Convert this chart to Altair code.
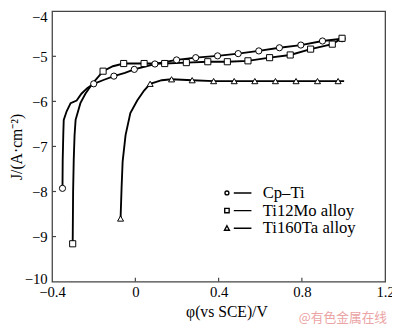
import altair as alt
import pandas as pd

# ---------------- data ----------------
series_names = ["Cp–Ti", "Ti12Mo alloy", "Ti160Ta alloy"]

cp_x = [-0.350, -0.349, -0.346, -0.344, -0.330, -0.311, -0.282, -0.259, -0.230, -0.200,
        -0.150, -0.103, -0.050, -0.005, 0.094, 0.198, 0.290, 0.395, 0.494, 0.593,
        0.692, 0.795, 0.899, 0.993]
cp_y = [-7.93, -7.30, -6.70, -6.41, -6.22, -6.04, -5.98, -5.83, -5.70, -5.61,
        -5.52, -5.44, -5.37, -5.29, -5.17, -5.08, -5.03, -4.99, -4.94, -4.88,
        -4.81, -4.75, -4.66, -4.61]
cp_mark = [1, 0, 0, 0, 0, 0, 0, 0, 0, 1,
           0, 1, 0, 1, 1, 1, 1, 1, 1, 1,
           1, 1, 1, 1]

mo_x = [-0.301, -0.299, -0.296, -0.292, -0.287, -0.264, -0.240, -0.207, -0.155, -0.108,
        -0.056, 0.042, 0.141, 0.245, 0.348, 0.442, 0.541, 0.645, 0.744, 0.842,
        0.946, 0.993]
mo_y = [-9.16, -8.00, -7.30, -6.75, -6.41, -6.04, -5.83, -5.61, -5.33, -5.22,
        -5.16, -5.16, -5.16, -5.14, -5.12, -5.12, -5.10, -5.03, -4.97, -4.84,
        -4.73, -4.60]
mo_mark = [1, 0, 0, 0, 0, 0, 0, 0, 1, 0,
           1, 1, 1, 1, 1, 1, 1, 1, 1, 1,
           1, 1]

ta_x = [-0.071, -0.066, -0.061, -0.047, -0.024, 0.009, 0.042, 0.071, 0.127, 0.174,
        0.273, 0.376, 0.475, 0.574, 0.673, 0.772, 0.875, 0.974, 1.003]
ta_y = [-8.60, -7.90, -7.33, -6.75, -6.26, -5.98, -5.76, -5.61, -5.53, -5.51,
        -5.53, -5.55, -5.55, -5.55, -5.55, -5.55, -5.55, -5.55, -5.55]
ta_mark = [1, 0, 0, 0, 0, 0, 0, 1, 0, 1,
           1, 1, 1, 1, 1, 1, 1, 1, 0]

x_ticks = [-0.4, 0, 0.4, 0.8, 1.2]
y_ticks = [-10, -9, -8, -7, -6, -5, -4]
x_title = "φ(vs SCE)/V"
y_title = "J/(A·cm⁻²)"
watermark = "@有色金属在线"

# ---------------- tables ----------------
rows = []
for name, xs, ys, ms in [(series_names[0], cp_x, cp_y, cp_mark),
                         (series_names[1], mo_x, mo_y, mo_mark),
                         (series_names[2], ta_x, ta_y, ta_mark)]:
    for i, (a, b, m) in enumerate(zip(xs, ys, ms)):
        rows.append({"series": name, "x": a, "y": b, "i": i, "m": m})
df = pd.DataFrame(rows)
markers = df[df["m"] == 1]
xt = pd.DataFrame({"x": x_ticks[1:-1]})
yt = pd.DataFrame({"y": y_ticks[1:-1]})
wm = pd.DataFrame({"t": [watermark]})

FONT = "Liberation Serif"
W, H = 340, 276
FRAME = "#444444"

xsc = alt.Scale(domain=[-0.4, 1.2], nice=False, zero=False)
ysc = alt.Scale(domain=[-10, -4], nice=False, zero=False)

xaxis = alt.Axis(values=x_ticks, format="~g", title=x_title, ticks=False, tickSize=0,
                 domain=False, grid=False, labelFont=FONT, labelFontSize=15,
                 labelColor="black", labelPadding=3, labelFlush=False,
                 titleFont=FONT, titleFontSize=16, titleFontWeight="normal",
                 titleColor="black", titleX=178, titleY=36, titleBaseline="alphabetic")
yaxis = alt.Axis(values=y_ticks, format="d", title=y_title, ticks=False, tickSize=0,
                 domain=False, grid=False, labelFont=FONT, labelFontSize=15,
                 labelColor="black", labelPadding=5, labelFlush=False,
                 labelOffset={"condition": [{"test": "datum.value == -4", "value": 5},
                                            {"test": "datum.value == -10", "value": -3}],
                              "value": 0},
                 titleFont=FONT, titleFontSize=16, titleFontWeight="normal",
                 titleColor="black", titleX=-36, titleY=138, titleAngle=270,
                 titleBaseline="middle", titleAlign="center")

line = alt.Chart(df).mark_line(color="black", strokeWidth=1.9).encode(
    x=alt.X("x:Q", scale=xsc, axis=xaxis),
    y=alt.Y("y:Q", scale=ysc, axis=yaxis),
    detail="series:N",
    order="i:Q",
)

xtick = alt.Chart(xt).mark_rule(color=FRAME, strokeWidth=1.2).encode(
    x=alt.X("x:Q", scale=xsc), y=alt.value(H), y2=alt.value(H - 4))
ytick = alt.Chart(yt).mark_rule(color=FRAME, strokeWidth=1.2).encode(
    y=alt.Y("y:Q", scale=ysc), x=alt.value(0), x2=alt.value(4))

pts = alt.Chart(markers).mark_point(filled=True, fill="white", stroke="black",
                                    strokeWidth=1.0, opacity=1).encode(
    x=alt.X("x:Q", scale=xsc),
    y=alt.Y("y:Q", scale=ysc),
    shape=alt.Shape("series:N", scale=alt.Scale(domain=series_names,
                    range=["circle", "square", "triangle-up"]), legend=None),
    size=alt.Size("series:O", scale=alt.Scale(domain=series_names, range=[40, 38, 28]),
                  legend=None),
)

path_c = "M-4.4,0A0.4,0.4 0 1,0 -3.6,0A0.4,0.4 0 1,0 -4.4,0Z M-2.6,0L1,0"
path_s = "M-4.45,-0.45L-3.55,-0.45L-3.55,0.45L-4.45,0.45Z M-2.6,0L1,0"
path_t = "M-4,-0.5L-3.5,0.4L-4.5,0.4Z M-2.6,0L1,0"

# legend-only layer: no rows drawn, the explicit domain still lists every entry
leg = alt.Chart(markers).transform_filter("datum.m > 1").mark_point(
    filled=False, color="black", strokeWidth=1.3, opacity=1).encode(
    x=alt.X("x:Q", scale=xsc),
    y=alt.Y("y:Q", scale=ysc),
    shape=alt.Shape("series:N", scale=alt.Scale(domain=series_names,
                    range=[path_c, path_s, path_t]),
                    legend=alt.Legend(title=None, orient="none", legendX=190, legendY=177,
                                      symbolSize=100, symbolStrokeWidth=1.4,
                                      symbolStrokeColor="black",
                                      symbolOpacity=1, labelFont=FONT, labelFontSize=17,
                                      labelColor="black", labelOffset=8, rowPadding=0,
                                      padding=0)),
)

wmk = alt.Chart(wm).mark_text(align="right", baseline="alphabetic",
                              font="Noto Sans CJK SC", fontSize=13,
                              color="#eba3a3").encode(
    x=alt.value(342), y=alt.value(H + 41), text="t:N")

chart = alt.layer(line, xtick, ytick, pts, leg, wmk).resolve_scale(
    shape="independent", size="independent"
).properties(
    width=W, height=H,
    autosize=alt.AutoSizeParams(type="none"),
    padding={"left": 45, "top": 0, "right": 7, "bottom": 43},
).configure_view(stroke=FRAME, strokeWidth=1.3)

chart.save("out.html", embed_options={"renderer": "svg", "actions": False})
